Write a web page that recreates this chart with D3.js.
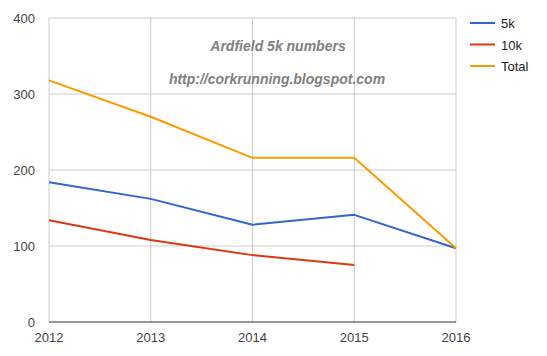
<!DOCTYPE html>
<html>
<head>
<meta charset="utf-8">
<script src="https://cdn.jsdelivr.net/npm/d3@7"></script>
<style>
body { margin: 0; background: #fff; }
text { font-family: "Liberation Sans", Arial, sans-serif; }
</style>
</head>
<body>
<script>
var years = [2012, 2013, 2014, 2015, 2016];
var fiveK = [184, 162, 128, 141, 97];
var tenK = [134, 108, 88, 75, null];
var total = [318, 270, 216, 216, 97];
var yTicks = [0, 100, 200, 300, 400];

var series = [
    { name: "5k", color: "#3366cc", values: fiveK },
    { name: "10k", color: "#dc3912", values: tenK },
    { name: "Total", color: "#ff9900", values: total }
];

var width = 547, height = 356;
var svg = d3.select("body").append("svg")
    .attr("width", width)
    .attr("height", height);

var x = d3.scaleLinear().domain([2012, 2016]).range([49, 456]);
var y = d3.scaleLinear().domain([0, 400]).range([322, 18]);

// horizontal grid
svg.append("g").selectAll("line")
    .data(yTicks.filter(d => d > 0))
    .join("line")
    .attr("x1", x(2012)).attr("x2", x(2016))
    .attr("y1", d => y(d)).attr("y2", d => y(d))
    .attr("stroke", "#cccccc");

// vertical grid
svg.append("g").selectAll("line")
    .data(years)
    .join("line")
    .attr("x1", d => x(d)).attr("x2", d => x(d))
    .attr("y1", y(400)).attr("y2", y(0))
    .attr("stroke", "#cccccc");

// titles inside plot
svg.append("text")
    .attr("x", 278).attr("y", 51)
    .attr("text-anchor", "middle")
    .attr("font-size", 14).attr("font-weight", "bold").attr("font-style", "italic")
    .attr("fill", "#808080")
    .text("Ardfield 5k numbers");
svg.append("text")
    .attr("x", 277).attr("y", 84)
    .attr("text-anchor", "middle")
    .attr("font-size", 14).attr("font-weight", "bold").attr("font-style", "italic")
    .attr("fill", "#808080")
    .text("http://corkrunning.blogspot.com");

// baseline
svg.append("line")
    .attr("x1", x(2012)).attr("x2", x(2016))
    .attr("y1", y(0)).attr("y2", y(0))
    .attr("stroke", "#333333");

// y labels
svg.append("g").selectAll("text")
    .data(yTicks)
    .join("text")
    .attr("x", 35).attr("y", d => y(d) + 5)
    .attr("text-anchor", "end")
    .attr("font-size", 13).attr("fill", "#444444")
    .text(d => d);

// x labels
svg.append("g").selectAll("text")
    .data(years)
    .join("text")
    .attr("x", d => x(d)).attr("y", 342)
    .attr("text-anchor", "middle")
    .attr("font-size", 13).attr("fill", "#444444")
    .text(d => d);

var line = d3.line()
    .defined(d => d.v != null)
    .x(d => x(d.year))
    .y(d => y(d.v));

svg.append("g").selectAll("path")
    .data(series)
    .join("path")
    .attr("fill", "none")
    .attr("stroke", d => d.color)
    .attr("stroke-width", 2)
    .attr("stroke-linejoin", "round")
    .attr("d", d => line(years.map((yr, i) => ({ year: yr, v: d.values[i] }))));

// legend
var legend = svg.append("g").selectAll("g")
    .data(series)
    .join("g")
    .attr("transform", (d, i) => "translate(470," + (23 + i * 21.5) + ")");
legend.append("line")
    .attr("x1", 0).attr("x2", 25)
    .attr("stroke", d => d.color)
    .attr("stroke-width", 2);
legend.append("text")
    .attr("x", 31).attr("y", 5)
    .attr("font-size", 13).attr("fill", "#222222")
    .text(d => d.name);
</script>
</body>
</html>
